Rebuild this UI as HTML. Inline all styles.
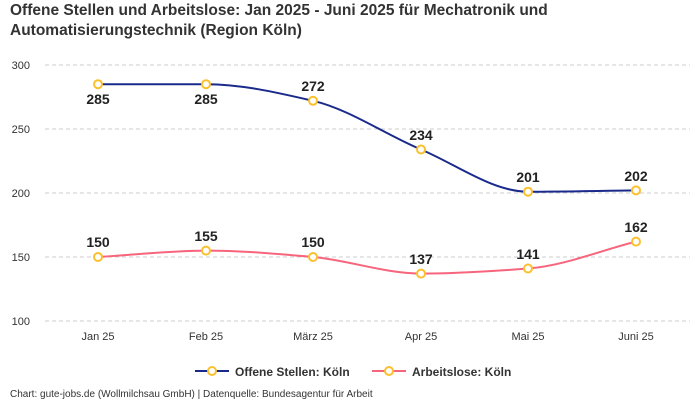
<!DOCTYPE html>
<html><head><meta charset="utf-8"><style>
body{margin:0;background:#fff;}
svg{display:block;font-family:"Liberation Sans",sans-serif;}
</style></head><body>
<svg width="700" height="400" xmlns="http://www.w3.org/2000/svg">
<text x="10" y="15" font-size="15.5" font-weight="bold" fill="#333">Offene Stellen und Arbeitslose: Jan 2025 - Juni 2025 für Mechatronik und</text>
<text x="10" y="35" font-size="15.5" font-weight="bold" fill="#333">Automatisierungstechnik (Region Köln)</text>
<g stroke="#ccc" stroke-dasharray="4,3" stroke-width="1">
<line x1="45" y1="65" x2="690" y2="65"/><line x1="45" y1="129" x2="690" y2="129"/>
<line x1="45" y1="193" x2="690" y2="193"/><line x1="45" y1="257" x2="690" y2="257"/>
<line x1="45" y1="321" x2="690" y2="321"/></g>
<g font-size="11" fill="#333" text-anchor="end">
<text x="30" y="69">300</text><text x="30" y="133">250</text><text x="30" y="197">200</text><text x="30" y="261">150</text><text x="30" y="325">100</text></g>
<g font-size="11" fill="#333" text-anchor="middle">
<text x="98" y="340">Jan 25</text><text x="206" y="340">Feb 25</text><text x="313" y="340">März 25</text><text x="421" y="340">Apr 25</text><text x="528" y="340">Mai 25</text><text x="636" y="340">Juni 25</text></g>
<path d="M98,84.2 L206,84.2 C241.7,84.2 277.3,92.6 313,100.8 C348.7,109 385.3,134.5 421,149.5 C456.7,164.5 492.3,191.7 528,191.7 C564,191.7 600,190.8 636,190.4" fill="none" stroke="#1a2a8a" stroke-width="2"/>
<path d="M98,257 C134,254.9 170,250.6 206,250.6 C241.7,250.6 277.3,253.8 313,257 C348.7,260.2 385.3,273.6 421,273.6 C456.7,273.6 492.3,271.2 528,268.5 C564,265.8 600,250.6 636,241.6" fill="none" stroke="#f7657d" stroke-width="2"/>
<g fill="#fff" stroke="#fbc02d" stroke-width="2">
<circle cx="98" cy="84.2" r="4"/><circle cx="206" cy="84.2" r="4"/><circle cx="313" cy="100.8" r="4"/><circle cx="421" cy="149.5" r="4"/><circle cx="528" cy="191.7" r="4"/><circle cx="636" cy="190.4" r="4"/>
<circle cx="98" cy="257" r="4"/><circle cx="206" cy="250.6" r="4"/><circle cx="313" cy="257" r="4"/><circle cx="421" cy="273.6" r="4"/><circle cx="528" cy="268.5" r="4"/><circle cx="636" cy="241.6" r="4"/></g>
<g font-size="14" font-weight="bold" fill="#222" text-anchor="middle">
<text x="98" y="104">285</text><text x="206" y="104">285</text><text x="313" y="91">272</text><text x="421" y="140">234</text><text x="528" y="182">201</text><text x="636" y="181">202</text>
<text x="98" y="247">150</text><text x="206" y="241">155</text><text x="313" y="247">150</text><text x="421" y="264">137</text><text x="528" y="259">141</text><text x="636" y="232">162</text></g>
<line x1="195" y1="371" x2="229" y2="371" stroke="#1a2a8a" stroke-width="2"/>
<circle cx="212" cy="371" r="4" fill="#fff" stroke="#fbc02d" stroke-width="2"/>
<text x="235" y="376" font-size="12" font-weight="bold" fill="#333">Offene Stellen: Köln</text>
<line x1="372" y1="371" x2="406" y2="371" stroke="#f7657d" stroke-width="2"/>
<circle cx="389" cy="371" r="4" fill="#fff" stroke="#fbc02d" stroke-width="2"/>
<text x="412" y="376" font-size="12" font-weight="bold" fill="#333">Arbeitslose: Köln</text>
<text x="10" y="397" font-size="10" fill="#333">Chart: gute-jobs.de (Wollmilchsau GmbH) | Datenquelle: Bundesagentur für Arbeit</text>
</svg>
</body></html>
